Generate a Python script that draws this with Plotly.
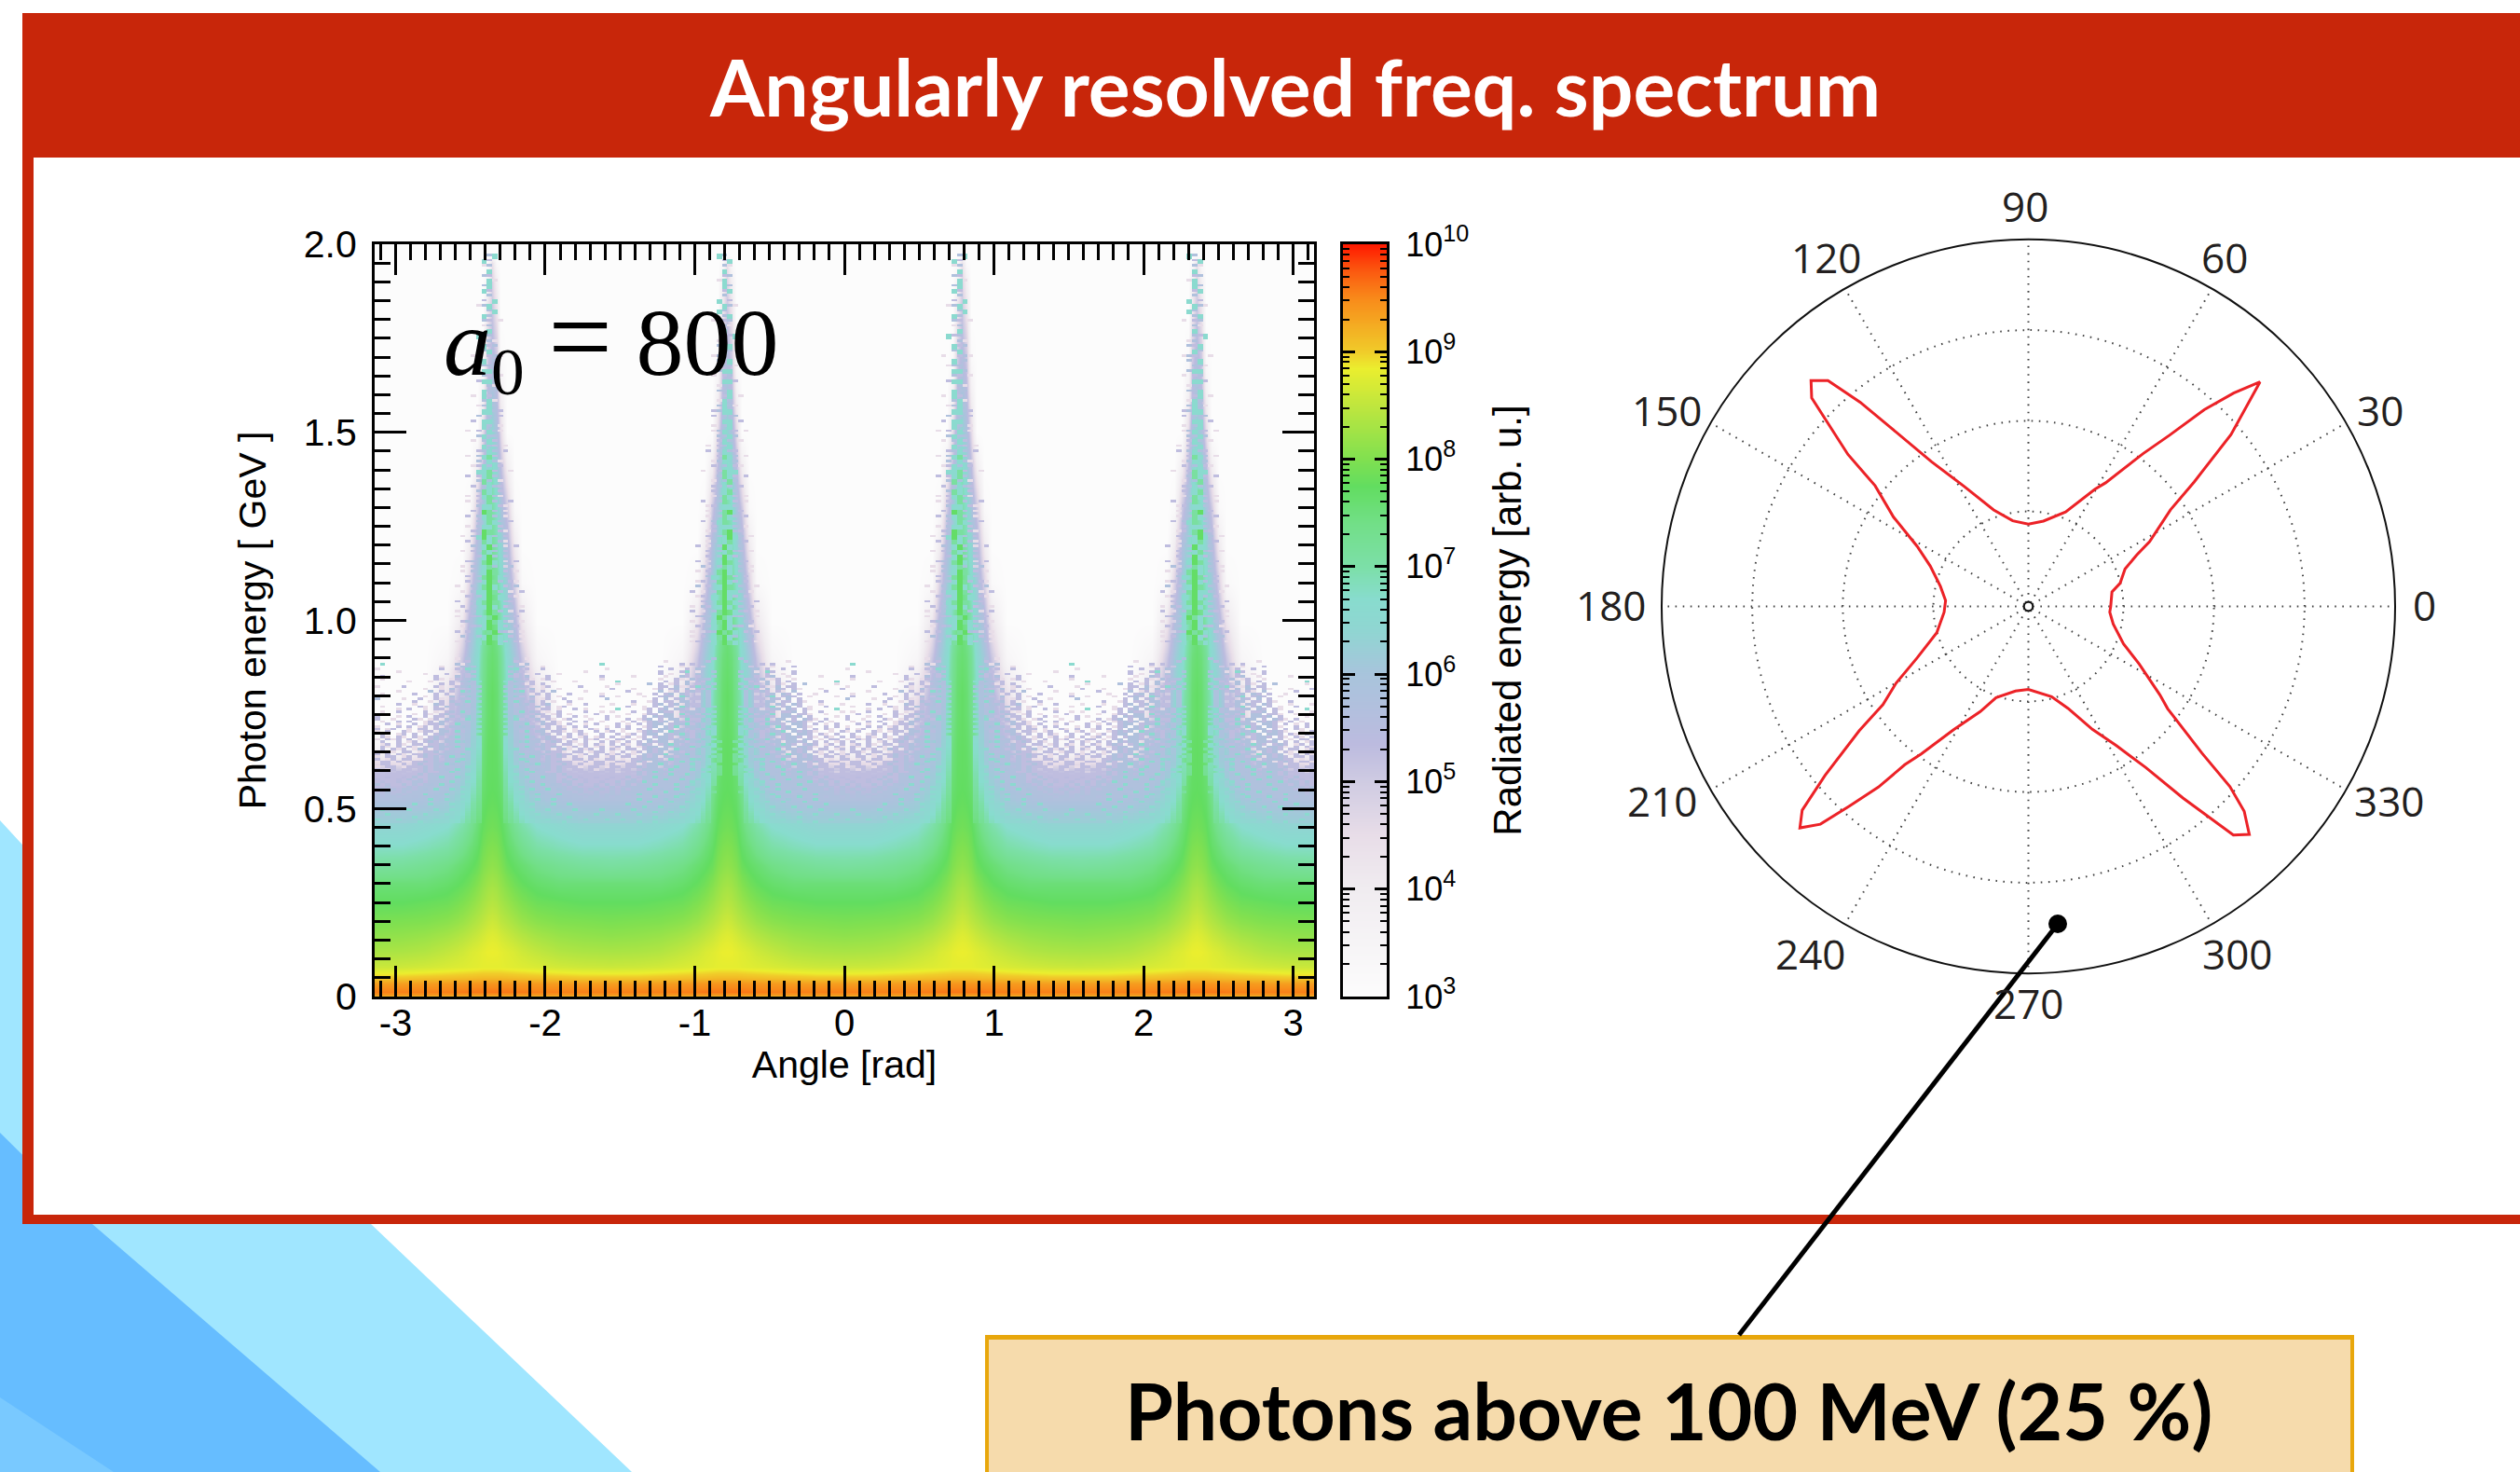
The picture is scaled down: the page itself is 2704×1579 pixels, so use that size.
import numpy as np
import plotly.graph_objects as go

W, H = 2704, 1579

# ---------- heatmap data: log10(radiated energy) ----------
peak_angles = [-2.356, -0.785, 0.785, 2.356]
peak_offsets = [0, 0.03, 0.06, 0.10, 0.15, 0.20, 0.30, 0.45, 0.60, 0.785]
energies = [0, .004, .012, .02, .035, .05, .08, .12, .16, .2, .25, .3, .35, .4, .45, .5, .55, .6, .65, .7,
            .75, .8, .85, .9, 1.0, 1.1, 1.2, 1.3, 1.4, 1.5, 1.6, 1.7, 1.8, 1.9, 1.95, 1.97, 2.0]
log_energy = [
    [9.0, 9.0, 9.0, 9.0, 9.0, 9.0, 9.0, 9.0, 9.0, 9.0],
    [9.4, 9.4, 9.4, 9.4, 9.4, 9.4, 9.4, 9.4, 9.4, 9.4],
    [9.6, 9.6, 9.6, 9.6, 9.6, 9.58, 9.56, 9.55, 9.55, 9.55],
    [9.55, 9.55, 9.55, 9.55, 9.53, 9.52, 9.5, 9.5, 9.5, 9.5],
    [9.42, 9.42, 9.42, 9.42, 9.4, 9.4, 9.38, 9.36, 9.35, 9.35],
    [9.15, 9.15, 9.15, 9.14, 9.13, 9.12, 9.1, 9.08, 9.05, 9.05],
    [8.8, 8.8, 8.8, 8.78, 8.76, 8.74, 8.7, 8.64, 8.6, 8.58],
    [8.85, 8.84, 8.8, 8.75, 8.7, 8.62, 8.52, 8.4, 8.35, 8.33],
    [8.75, 8.72, 8.66, 8.58, 8.5, 8.42, 8.3, 8.2, 8.15, 8.12],
    [8.6, 8.56, 8.48, 8.4, 8.3, 8.2, 8.08, 8.0, 7.98, 7.95],
    [8.42, 8.38, 8.3, 8.2, 8.08, 7.98, 7.85, 7.8, 7.75, 7.75],
    [8.28, 8.24, 8.15, 8.02, 7.88, 7.78, 7.65, 7.55, 7.55, 7.55],
    [8.12, 8.08, 8.0, 7.82, 7.7, 7.6, 7.4, 7.25, 7.15, 7.1],
    [8.0, 7.97, 7.88, 7.68, 7.5, 7.3, 7.0, 6.85, 6.75, 6.75],
    [7.88, 7.85, 7.78, 7.55, 7.25, 7.0, 6.7, 6.55, 6.4, 6.4],
    [7.8, 7.78, 7.7, 7.42, 7.05, 6.75, 6.4, 6.25, 6.2, 6.2],
    [7.75, 7.72, 7.62, 7.28, 6.85, 6.55, 6.2, 5.9, 5.7, 5.7],
    [7.72, 7.7, 7.55, 7.15, 6.65, 6.4, 5.9, 5.3, 5.2, 5.2],
    [7.72, 7.68, 7.5, 7.05, 6.55, 6.2, 5.6, 4.2, 3.6, 3.6],
    [7.7, 7.65, 7.42, 6.95, 6.5, 6.0, 5.2, 3.2, 3, 3],
    [7.7, 7.6, 7.35, 6.85, 6.4, 5.8, 4.8, 3, 3, 3],
    [7.7, 7.6, 7.3, 6.75, 6.3, 5.6, 4.4, 3, 3, 3],
    [7.65, 7.55, 7.25, 6.65, 6.2, 5.4, 3.9, 3, 3, 3],
    [7.6, 7.5, 7.2, 6.55, 6.1, 5.1, 3.4, 3, 3, 3],
    [7.5, 7.3, 6.9, 6.4, 5.6, 4.2, 3, 3, 3, 3],
    [7.35, 7.1, 6.7, 6.15, 4.8, 3.2, 3, 3, 3, 3],
    [7.15, 6.9, 6.4, 5.7, 4.0, 3, 3, 3, 3, 3],
    [7.0, 6.7, 6.0, 5.0, 3.2, 3, 3, 3, 3, 3],
    [6.8, 6.4, 5.4, 4.0, 3, 3, 3, 3, 3, 3],
    [6.4, 5.9, 4.6, 3, 3, 3, 3, 3, 3, 3],
    [6.0, 5.4, 3.8, 3, 3, 3, 3, 3, 3, 3],
    [5.6, 5.0, 3.2, 3, 3, 3, 3, 3, 3, 3],
    [5.2, 4.4, 3, 3, 3, 3, 3, 3, 3, 3],
    [4.8, 3.8, 3, 3, 3, 3, 3, 3, 3, 3],
    [4.4, 3.2, 3, 3, 3, 3, 3, 3, 3, 3],
    [3, 3, 3, 3, 3, 3, 3, 3, 3, 3],
    [3, 3, 3, 3, 3, 3, 3, 3, 3, 3],
]

# speckle cells read by eye: l lilac, p purple, b blue, t teal, m mint, g green, w empty bin
speckle_levels = {"l": 4.5, "p": 5.3, "b": 5.75, "t": 6.6, "m": 7.1, "g": 7.7, "w": 3.0}
# one period between neighbouring peaks, top row E=0.900, going down one bin per row
fringe_rows = [
    "....b.l..................................l..",
    "....p...........................l.......p...",
    ".....lb.............t..............p.p......",
    "...b.b...l.....................p...l...l....",
    "....t.p..p...........l...........p..p.b.....",
    "...b.p...........l.............p...pt.l..l..",
    "....p.l.p...l..................p.l..p.b.....",
    "...bp.b...p.........p.....l.....l..bp.p..l..",
    "....b.pl.lp.........l..........l..pl.b.bp...",
    "..tp.b.p...l...l.......t........p.p.bl.p....",
    "...pb.lp.p.............l.....b.p.lp.b.pb.l..",
    "..pb.bp..lp.....p....l.........pp.bl.pt.p...",
    "...bpp.b.l..l.........p...l...lp.pb.bl.p.l..",
    "..bp.t.p.p.b.....l.......p.....b.lp.pbp.p...",
    "...pbb.lp.p...p.....l......l..p.pb.bp.l.p...",
    "..pb.p.b..p.l.......p..l....l..pbp.tb.p.b...",
    "...bpb.p.lp..p..l....b........p.b.pb.pp.l...",
    "..pbt.pb.p.l..p...........p..lp.pp.bb.l.p...",
    "...bp.bp.pb...l..p....l...l...pb.pb.bpp.l...",
    "..tbpb.pb.p.lp......l....p..l.p.bp.tb.p.bl..",
    "...pbb.p.pp.l..p.l.....t....lp.pb.bbpl.p....",
    "..bbpt.bp.l.p....p..l.l...p..p.bpp.pbb.p.l..",
    "...pbb.pbp.lp.l....p.....l..lpp.bb.tpbp.l...",
    "..pb.bpb.pp.p..p.l...p.l....p.bpbb.pb.bp.l..",
    "...btp.pb.pl.lp...l..p...p.lpb.p.bb.tpp.p...",
    "..tbpbb.pb.pl..p.p..l...l.p.lpbpb.bpb.p.lp..",
    "...pbbtp.bppl.p..l.p...p.l.p.pbb.pbbtp.bp...",
    "..bbp.bbp.p.pl.p.p...l.p.p..lpb.bpt.bb.p.l..",
    "...bpbb.pbp.pp.l..pl.p..lp.p.p.bbp.bpbp.pl..",
    "..tbbpt.bb.ppl.lp..p.lp.l..lpbpb.tbb.pbp.p..",
    "...pbbb.pbp.p.p.pl..p..p.lp.pbb.bpbtbp.p.l..",
    "..bbpbtb.pbp.lp.lp.lp.p.lp.lp.pbbp.bbp.bp...",
    "..lpbbb.bpbppl.p.plp.l.pp.l.pb.bbpb.tbp.pl..",
    "..bpb.tbb.pbp.pl.p..p.pl.p.p.bpbb.bbpb.bp.l.",
    "..tbbpbb.bpp.pp.lp.pl.p.pl.pbp.pbtb.bpbp.p..",
    "..pbbbt.bbpbp.lp.p.lp.lp.p.lpbb.bpbb.tb.pl..",
    "..bbtbb.pbp.pbl.plp.p.pl.pp.pbpbb.tbbp.bp.l.",
    "..lbbbpbb.bppl.pp.lpp.l.p.lp.bpb.bbpbb.ppl..",
    "..tbbtb.bbppbpp.lp.p.plp.pl.bpbbt.bbtb.bp.p.",
    "..bpbbbtb.bpbp.pl.pp.lp.pp.pbpb.bbpb.bbp.pl.",
    "..bbbt.bbpbppl.pp.pl.pp.l.ppbbbp.tbbbt.bp.p.",
    "..pbbbtbb.bpbpp.lp.pp.lpp.pbp.bbbpbtb.bbp.l.",
    "..tbbbb.tbbppbp.pl.pp.pl.pp.pbbtb.bbbtbpbp..",
    "..bbtbbbb.bpbpppl.pp.lpp.ppbpbb.bbtbb.bp.pp.",
    "..bbbbtb.bbpbp.pp.pl.pp.pp.pbbbb.tbbbtb.bpl.",
    "..tbbbbtbbppbpp.pp.pp.pl.ppbpbtbbb.bbbbp.bp.",
    "..bbtbbbbb.bpbpp.ppp.pp.pp.bpbbb.tbbtbb.bpp.",
    "..bbbbtbbtbbppbp.pp.pp.ppbp.bbtbbbb.bbbtbp..",
    "..tbbbbbb.bbpbpbp.ppp.pp.pbpbbbbtbbtbb.bbp..",
    "..bbtbbtbbbbpbbpp.pp.ppbpbb.tbbb.bbbbtbbbp..",
    "..bbbbbbbtb.bpbpbpp.pbp.pbpbbbtbbbtbb.bbpb..",
    "..tbbtbbbbbbbbpbpppbppbp.bbb.bbbbbbbtbbbb...",
    "..bbbbbtbbtb.bpbbp.pbp.pbpbbbtb.bbtbbbtbb...",
    "..bbbtbbbbbbbbbpbpp.ppbpbb.bbbbbtbbbb.bbtb..",
    "..tbbbbbtbbbtbbbpbpbpbbpbbbtbb.bbbbtbbbbb...",
    "..bbbtbbbbbbbbwbbpbbpbpbbwbbbbtbbbtbbbtbb...",
    "..bbbbbbtbbtbbbbpbbwbbpbbbbtbbbb.bbbbbbbt...",
    "..tbbtbbbbbbbbbbbbpbbbbbwbbbbtbbbtbbtbbbb...",
    "..bbbbbtbbbtbbtbbbbbwbbbbtbbbbbbbbbbbbtbb...",
    "..bbtbbbbbbbbbbbbpbbbbbbbbbbtbbtbbbtbbbbt...",
    "..tbbbbtbbtbbbbtbbbbtbbwbbtbbbbbbbbbbtbbb...",
    "..bbbtbbbbbbbbbbbbbbbbbbbbbbbbtbbtbbbbbbt...",
    "..bbbbbbtbbbtbbbwbbtbbbtbbbtbbbbbbbtbbtbb...",
    "..tbbtbbbbbbbbtbbbbbbbbbbbbbbbtbbbbbbbbbb...",
    "..bbbbbtbbtbbbbbbtbbbtbbtbbbbbbbbtbbtbbbt...",
    "..bbtbbbbbbbbtbbbbbbbbbbbbbtbbtbbbbbbbbbb...",
]
# around one peak (centre is the 8th character), top row E=1.970, going down two bins per row
spike_rows = [
    ".......bt......", "......tp.......", "......lb.......", ".......t.......", "......bp.......",
    ".......tl......", "......bt.......", "......tp.......", ".......b.......", "......p.t......",
    ".....lbt.......", ".......bt......", "......tb.......", "......bp.l.....", "......lb.......",
    ".......t.......", ".....tpb.......", ".......bl......", "......tpb......", "......bt.......",
    "....l..pbl.....", "......t.b......", ".....lbb.......", "......ttb......", "......bp.l.....",
    ".....ptt.......", ".......bl......", "......tbb......", "....l.tp.......", "......btl......",
    ".....lbtb......", "......ttbp.....", ".....b.b.p.....", "....p.tt.......", "......tb.l.....",
    "...l.p.tbl.....", ".....btbb......", "....l.btp......", "......tbp.l....", ".....pbtb.p....",
    "...l.btmp......", ".....b.tbl.....", "....lptb.p.....", ".....ttmp..l...", "...p.ptmb......",
    ".....bmb.l.....", "....p.btbp.....", ".....bmt.p.....", "...l.ptmbl.....", "...l.p.mb..p...",
    ".....btt.pl....", "....p.gmb.l....", "...p.btmb.l....", ".....b.mtb.p...", "...l.btt.p.....",
    "....pbgm.pl....", "..l.btgtb.p....", "...p..mt.bl....", "....b.tgb.l.p..", "..l.pbmtb.p....",
    ".....ptgb.p....", "...pb.mgt.l.p..", "..l.b.tmb.lb...", "..l.b.tgm.p.l..", "...p.bmg.tb....",
    "...p.btgmb.pl..", ".l..b.mgt.p.b..", "..l.bttgmb.l.p.", "...p.btg.t.pl..", ".p..btmgm.bp...",
    "..p.b.tgt.pb.l.", ".l.pbt.gmb.l.p.", ".l..pbtmg.bbp..", "..pb..tgmtbl.l.", "..l.pbtg.tb.p..",
    ".p.p.t.mgbpl.l.", "..b..btgmt.p.l.", ".l.p.tmg.tb.pl.",
]

# ---------- polar curve ----------
polar_theta = [0, 9.9, 14.2, 21.2, 25.4, 28.1, 34.2, 36.9, 40.3, 44.1, 46.1, 48.2, 50.5, 53.1, 58, 60.4, 68.5, 80,
               90, 100.4, 109.8, 118.2, 123.8, 127.5, 129.5, 131.6, 133.9, 136.1, 139.9, 141.8, 146.5, 151.6,
               157.6, 167.1, 176, 183.9, 196, 204.8, 210.1, 214, 216.3, 219.7, 222, 224.1, 226.3, 228.1, 230.3,
               232, 234, 238.7, 245.4, 250.5, 261.3, 270, 284.4, 291.3, 297.5, 302.3, 306.1, 308.9, 311.9,
               314.1, 316.5, 318.2, 319.8, 323.7, 326.1, 332.6, 338.5, 348.3, 356, 360]
polar_r = [.215, .222, .249, .274, .319, .367, .462, .560, .721, .878, .805, .716, .600, .515, .390, .360, .268, .227,
           .215, .228, .271, .364, .468, .606, .718, .821, .853, .818, .639, .526, .434, .337,
           .281, .237, .217, .221, .251, .326, .410, .472, .567, .717, .828, .866, .819, .728, .636,
           .542, .491, .387, .307, .255, .224, .217, .245, .290, .370, .442, .538, .667, .835,
           .864, .809, .734, .615, .465, .425, .332, .270, .227, .213, .215]
polar_tick_angles = list(range(0, 360, 30))
# where the reference sets the angle labels (pixel centres)
polar_label_pos = {0: (2601, 649), 30: (2554, 440), 60: (2387, 276), 90: (2173, 221), 120: (1959, 276),
                   150: (1788, 440), 180: (1728, 649), 210: (1783, 859), 240: (1942, 1023), 270: (2176, 1076),
                   300: (2400, 1023), 330: (2563, 859)}

# ---------- text ----------
title_text = "Angularly resolved freq. spectrum"
callout_text = "Photons above 100 MeV (25 %)"
x_ticks = [-3, -2, -1, 0, 1, 2, 3]
x_labels = ["-3", "-2", "-1", "0", "1", "2", "3"]
y_ticks = [0, 0.5, 1.0, 1.5, 2.0]
y_labels = ["0", "0.5", "1.0", "1.5", "2.0"]
bar_decades = [3, 4, 5, 6, 7, 8, 9, 10]

colors = [(3.0, "#fcfcfc"), (4.0, "#f0ecf0"), (4.5, "#e8dde8"), (5.0, "#cfcbe2"), (5.35, "#bcbbdf"),
          (6.0, "#a8c4dc"), (6.4, "#90d5d2"), (6.7, "#88dcce"), (7.0, "#7cdfa8"), (7.4, "#72df88"),
          (7.75, "#62dd60"), (8.0, "#80e050"), (8.5, "#bfe63e"), (8.85, "#ebee2e"), (9.0, "#f0cc2a"),
          (9.5, "#f88a1a"), (9.75, "#fb5a10"), (10.0, "#ff1a00")]
colorscale = [[(v - 3) / 7, c] for v, c in colors]

RED = "#c8260a"


def px(x):
    return x / W


def py(y):
    return 1 - y / H


def poly(points, color, layer="below"):
    d = "M " + " L ".join(f"{px(x)} {py(y)}" for x, y in points) + " Z"
    return dict(type="path", path=d, xref="paper", yref="paper", fillcolor=color, line_width=0, layer=layer)


def rect(x0, y0, x1, y1, color, line=None, lw=0, layer="below"):
    return dict(type="rect", xref="paper", yref="paper", x0=px(x0), x1=px(x1), y0=py(y0), y1=py(y1),
                fillcolor=color, line=dict(color=line or color, width=lw), layer=layer)


# assemble heat table from the read-off offsets around the four peaks
angles, col_idx = [], []
for pk in peak_angles:
    for i in range(len(peak_offsets) - 1, 0, -1):
        angles.append(pk - peak_offsets[i]); col_idx.append(i)
    angles.append(pk); col_idx.append(0)
    for i in range(1, len(peak_offsets)):
        if pk == peak_angles[-1] or i < len(peak_offsets) - 1:
            angles.append(pk + peak_offsets[i]); col_idx.append(i)
table = np.array(log_energy)
z = table[:, col_idx]

# bins of the speckle layer; a speckle may only dim the smooth level beneath it a little,
# and less so low down, where the reference is nearly continuous
BIN_X, BIN_Y = 0.0357, 0.00667
NX, NY = 176, 300
cells = np.full((NY, NX), np.nan)


def smooth_level(angle, energy):
    d = min(abs(angle - pk) for pk in peak_angles)
    col = [float(np.interp(energy, energies, table[:, j])) for j in range(table.shape[1])]
    return float(np.interp(d, peak_offsets, col))


def put(angle, energy, ch):
    ix = int(round((angle + 3.14) / BIN_X - 0.5))
    iy = int(round(energy / BIN_Y - 0.5))
    if ch in speckle_levels and 0 <= ix < NX and 0 <= iy < NY:
        dim = min(0.9, max(0.1, 0.1 + (energy - 0.46) * 1.7))
        cells[iy, ix] = max(speckle_levels[ch], smooth_level(angle, energy) - dim)


for start, flip in [(-3.926, True), (-2.356, False), (-0.785, True), (0.785, False), (2.356, True)]:
    for r, row in enumerate(fringe_rows):
        s = row[::-1] if flip else row
        for c, ch in enumerate(s):
            put(start + (c + 0.5) * BIN_X, 0.900 - r * BIN_Y, ch)
for n, pk in enumerate(peak_angles):
    for r, row in enumerate(spike_rows):
        s = row[::-1] if n % 2 else row
        for c, ch in enumerate(s):
            for k in ((0, 1) if ch in "tmg" else (0,)):
                put(pk + (c - 7) * BIN_X, 1.970 - (2 * r + k) * BIN_Y, ch)

FS = "Liberation Sans"
fig = go.Figure()
fig.add_trace(go.Heatmap(x=angles, y=energies, z=z.tolist(), coloraxis="coloraxis", zsmooth="best",
                         xaxis="x", yaxis="y", hoverinfo="skip"))
fig.add_trace(go.Heatmap(x0=-3.14 + BIN_X / 2, dx=BIN_X, y0=BIN_Y / 2, dy=BIN_Y,
                         z=[[None if np.isnan(v) else float(v) for v in row] for row in cells],
                         coloraxis="coloraxis", xaxis="x", yaxis="y", hoverinfo="skip", hoverongaps=False))
levels = [v / 20 for v in range(60, 201)]
fig.add_trace(go.Heatmap(x=[0, 1], y=levels, z=[[v, v] for v in levels], coloraxis="coloraxis", zsmooth="best",
                         xaxis="x2", yaxis="y2", hoverinfo="skip"))
fig.add_trace(go.Scatterpolar(r=polar_r, theta=polar_theta, mode="lines", line=dict(color="#ec2227", width=3),
                              hoverinfo="skip"))

bar_minor = [d + float(np.log10(k)) for d in bar_decades[:-1] for k in range(2, 10)]
axis_common = dict(showline=True, linecolor="black", linewidth=3, mirror="allticks", ticks="inside",
                   tickcolor="black", tickwidth=2.5, showgrid=False, zeroline=False, automargin=False)
DOTS = "1.6px,6.5px"

annotations = [
    dict(text=title_text, xref="paper", yref="paper", x=px(1389), y=py(92), xanchor="center", yanchor="middle",
         showarrow=False, font=dict(family="Lato", size=84, color="white", weight="bold")),
    dict(text=callout_text, xref="paper", yref="paper", x=px(1790), y=py(1512), xanchor="center", yanchor="middle",
         showarrow=False, font=dict(family="Lato", size=84, color="black", weight="bold")),
    dict(text='<i>a</i><sub>0</sub>&nbsp;<span style="font-size:122px">=</span>&nbsp;800', xref="paper", yref="paper",
         x=px(474), y=py(365), xanchor="left", yanchor="middle", showarrow=False,
         font=dict(family="Liberation Serif", size=102, color="black")),
]
for a in polar_tick_angles:
    lx, ly = polar_label_pos[a]
    annotations.append(dict(text=str(a), xref="paper", yref="paper", x=px(lx), y=py(ly), xanchor="center",
                            yanchor="middle", showarrow=False,
                            font=dict(family="Open Sans", size=44, color="#231f20")))

fig.update_layout(
    template="none",
    width=W, height=H, margin=dict(l=0, r=0, t=0, b=0, pad=0), paper_bgcolor="white", plot_bgcolor="rgba(0,0,0,0)",
    showlegend=False,
    coloraxis=dict(colorscale=colorscale, cmin=3, cmax=10, showscale=False),
    xaxis=dict(domain=[px(402), px(1410)], range=[-3.14, 3.14], tickvals=x_ticks, ticktext=x_labels, ticklen=33,
               tickfont=dict(family=FS, size=40, color="black"), ticklabelstandoff=-9,
               minor=dict(ticks="inside", dtick=0.1, tick0=0, ticklen=17, tickwidth=2.5, tickcolor="black", showgrid=False),
               title=dict(text="Angle [rad]", font=dict(family=FS, size=41, color="black"), standoff=6),
               anchor="y", **axis_common),
    yaxis=dict(domain=[py(1069), py(262)], range=[0, 2], tickvals=y_ticks, ticktext=y_labels, ticklen=34,
               tickfont=dict(family=FS, size=41, color="black"), ticklabelstandoff=8,
               minor=dict(ticks="inside", dtick=0.05, tick0=0, ticklen=17, tickwidth=2.5, tickcolor="black", showgrid=False),
               title=dict(text="Photon energy [ GeV ]", font=dict(family=FS, size=41, color="black"), standoff=28),
               anchor="x", **axis_common),
    xaxis2=dict(domain=[px(1441), px(1488)], range=[0, 1], showticklabels=False, showline=True, linecolor="black",
                linewidth=3, mirror=True, ticks="", showgrid=False, zeroline=False, automargin=False, anchor="y2"),
    yaxis2=dict(domain=[py(1069), py(262)], range=[3, 10], side="right", tickvals=bar_decades,
                ticktext=[f"10<sup>{d}</sup>" for d in bar_decades], ticklen=13,
                tickfont=dict(family=FS, size=36, color="black"), ticklabelstandoff=10,
                minor=dict(ticks="inside", tickvals=bar_minor, ticklen=7, tickwidth=2, tickcolor="black", showgrid=False),
                title=dict(text="Radiated energy [arb. u.]", font=dict(family=FS, size=42, color="black"), standoff=28),
                anchor="x2", **axis_common),
    polar=dict(
        domain=dict(x=[px(1783), px(2570)], y=[py(1044), py(257)]),
        bgcolor="rgba(0,0,0,0)", hole=0.012,
        radialaxis=dict(range=[0, 1], tickvals=[0.25, 0.5, 0.75, 1], showticklabels=False, showline=False, ticks="",
                        gridcolor="#444444", griddash=DOTS, gridwidth=1.6),
        angularaxis=dict(tickmode="array", tickvals=polar_tick_angles, showticklabels=False,
                         direction="counterclockwise", rotation=0, showline=True, linecolor="#111111",
                         linewidth=2, gridcolor="#444444", griddash=DOTS, gridwidth=1.6, ticks=""),
    ),
    shapes=[
        poly([(0, 880), (398, 1313), (678, 1579), (0, 1579)], "#a0e6ff"),
        poly([(0, 1215), (99, 1313), (408, 1579), (0, 1579)], "#66bdff"),
        poly([(0, 1499), (122, 1579), (0, 1579)], "#79c9ff"),
        rect(24, 14, 2704, 1313, RED),
        rect(36, 169, 2704, 1303, "white"),
        rect(1059, 1434, 2524, 1600, "#f6dbac", "#e8a70c", 4, "above"),
        rect(1057, 1432, 2526, 1437, "#e8a70c", None, 0, "above"),
        dict(type="line", xref="paper", yref="paper", x0=px(1866), y0=py(1432), x1=px(2208), y1=py(991),
             line=dict(color="black", width=5), layer="above"),
        dict(type="circle", xref="paper", yref="paper", x0=px(2198), x1=px(2218), y0=py(1001), y1=py(981),
             fillcolor="black", line_width=0, layer="above"),
    ],
    annotations=annotations,
)
fig.write_html("out.html", config=dict(displayModeBar=False),
               post_script="document.body.style.margin='0';document.body.style.overflow='hidden';")
